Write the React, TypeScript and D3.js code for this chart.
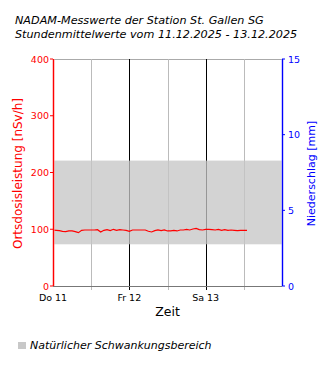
import React from "react";
import * as d3 from "d3";

const titleLines = [
  "NADAM-Messwerte der Station St. Gallen SG",
  "Stundenmittelwerte vom 11.12.2025 - 13.12.2025",
];
const startTime = new Date(2025, 11, 11, 0, 0);
const endTime = new Date(2025, 11, 14, 0, 0);
const dayTicks = [new Date(2025, 11, 11), new Date(2025, 11, 12), new Date(2025, 11, 13)];
const dayLabels = ["Do 11", "Fr 12", "Sa 13"];
const doseTicks = [0, 100, 200, 300, 400];
const rainTicks = [0, 5, 10, 15];
const bandRange = [73.5, 221];
const doseValues = [
  98.7, 98.1, 97.5, 96.4, 95.8, 97, 97, 95.8, 94, 98.1, 98.7, 98.7, 98.7, 98.7, 99.3, 95.2,
  98.1, 99.3, 97.5, 99.9, 98.1, 99.3, 98.7, 98.1, 96.4, 98.7, 98.7, 98.7, 98.7, 98.7, 96.4,
  95.2, 97.5, 98.7, 97.5, 98.7, 97, 97, 98.1, 97, 98.7, 98.7, 99.9, 98.7, 100.4, 101.6,
  99.3, 98.7, 99.9, 99.9, 99.3, 98.7, 99.9, 98.1, 99.3, 98.1, 98.7, 98.1, 97.5, 98.1,
  98.1, 98.1,
];

const W = 330, H = 370;
const L = 53, R = 282, T = 59, B = 286;
const FONT = "DejaVu Sans, Verdana, sans-serif";

export default function App() {
  const x = d3.scaleTime().domain([startTime, endTime]).range([L, R]);
  const y = d3.scaleLinear().domain([0, 400]).range([B, T]);
  const y2 = d3.scaleLinear().domain([0, 15]).range([B, T]);
  const halfDays = d3.timeHour.every(12)!.range(startTime, endTime).slice(1);
  const data = doseValues.map((v, i) => ({ t: d3.timeHour.offset(startTime, i), v }));
  const line = d3
    .line<{ t: Date; v: number }>()
    .x((d) => x(d.t))
    .y((d) => y(d.v));

  return (
    <svg width={W} height={H} style={{ position: "absolute", left: 0, top: 0 }} fontFamily={FONT}>
      <rect width={W} height={H} fill="#fff" />
      {titleLines.map((t, i) => (
        <text key={i} x={15} y={24 + i * 14} fontSize={11.2} fontStyle="italic" fill="#000">
          {t}
        </text>
      ))}
      {/* top border */}
      <line x1={L} x2={R} y1={T + 0.5} y2={T + 0.5} stroke="#aaa" />
      {/* vertical grid */}
      {halfDays.map((d, i) => {
        const isMidnight = d.getHours() === 0;
        return (
          <line
            key={i}
            x1={Math.round(x(d)) + 0.5}
            x2={Math.round(x(d)) + 0.5}
            y1={T}
            y2={B + 4}
            stroke={isMidnight ? "#000" : "#bbb"}
          />
        );
      })}
      {/* band */}
      <rect
        x={L}
        y={y(bandRange[1])}
        width={R - L}
        height={y(bandRange[0]) - y(bandRange[1])}
        fill="rgb(197,197,197)"
        fillOpacity={0.76}
      />
      {/* bottom axis */}
      <line x1={L} x2={R} y1={B + 0.5} y2={B + 0.5} stroke="#777" />
      {dayTicks.map((d, i) => (
        <text key={i} x={x(d)} y={300.5} fontSize={9.5} textAnchor="middle" fill="#000">
          {dayLabels[i]}
        </text>
      ))}
      <text x={(L + R) / 2} y={315.5} fontSize={12.5} textAnchor="middle" fill="#000">
        Zeit
      </text>
      {/* data line */}
      <path d={line(data) || ""} fill="none" stroke="#f00" strokeWidth={1.2} />
      {/* left axis */}
      <line x1={L + 0.5} x2={L + 0.5} y1={T} y2={B} stroke="#f88" strokeWidth={2} />
      <line x1={L + 0.5} x2={L + 0.5} y1={T} y2={B} stroke="#f00" strokeWidth={1} />
      {doseTicks.map((v) => (
        <g key={v}>
          <line x1={L - 3} x2={L} y1={y(v)} y2={y(v)} stroke="#f00" />
          <text x={L - 4} y={y(v) + 3.5} fontSize={9.5} textAnchor="end" fill="#f00">
            {v}
          </text>
        </g>
      ))}
      <text
        transform={`translate(22,${(T + B) / 2 + 1}) rotate(-90)`}
        fontSize={12}
        textAnchor="middle"
        fill="#f00"
      >
        Ortsdosisleistung [nSv/h]
      </text>
      {/* right axis */}
      <line x1={R + 0.5} x2={R + 0.5} y1={T} y2={B} stroke="#99f" strokeWidth={2} />
      <line x1={R + 0.5} x2={R + 0.5} y1={T} y2={B} stroke="#00f" strokeWidth={1} />
      {rainTicks.map((v) => (
        <g key={v}>
          <line x1={R} x2={R + 3} y1={y2(v)} y2={y2(v)} stroke="#00f" />
          <text x={R + 6} y={y2(v) + 3.5} fontSize={9.5} textAnchor="start" fill="#00f">
            {v}
          </text>
        </g>
      ))}
      <text
        transform={`translate(315,${(T + B) / 2 + 1}) rotate(-90)`}
        fontSize={11}
        textAnchor="middle"
        fill="#00f"
      >
        Niederschlag [mm]
      </text>
      {/* legend */}
      <rect x={18} y={342} width={8} height={7} fill="#c8c8c8" />
      <text x={30} y={349} fontSize={11} fontStyle="italic" fill="#000">
        Natürlicher Schwankungsbereich
      </text>
    </svg>
  );
}
